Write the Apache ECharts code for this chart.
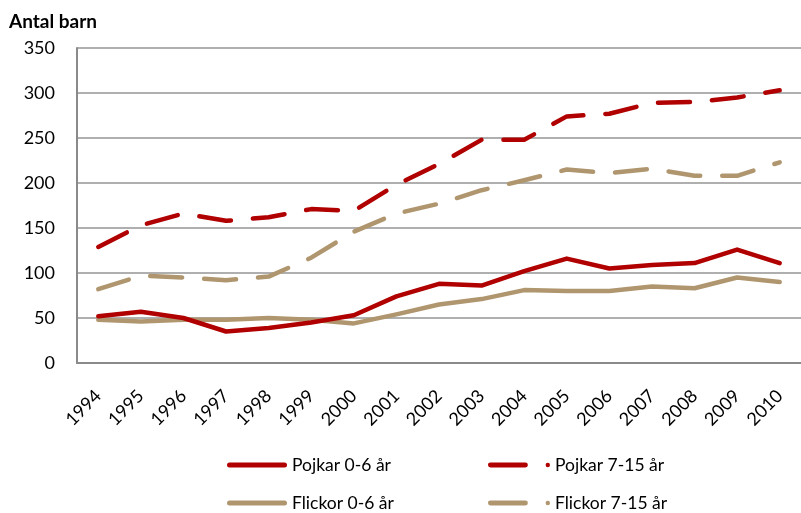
<!DOCTYPE html>
<html>
<head>
<meta charset="utf-8">
<script src="https://cdn.jsdelivr.net/npm/echarts@6/dist/echarts.min.js"></script>
<style>
  html, body { margin: 0; padding: 0; background: #fff; }
  #chart { width: 801px; height: 513px; }
</style>
</head>
<body>
<div id="chart"></div>
<script>
const years = ['1994','1995','1996','1997','1998','1999','2000','2001','2002','2003','2004','2005','2006','2007','2008','2009','2010'];
const pojkar06  = [52, 57, 50, 35, 39, 45, 53, 74, 88, 86, 102, 116, 105, 109, 111, 126, 111];
const flickor06 = [48, 46, 48, 48, 50, 48, 44, 54, 65, 71, 81, 80, 80, 85, 83, 95, 90];
const pojkar715 = [129, 153, 166, 158, 162, 171, 169, 198, 221, 248, 248, 274, 277, 289, 290, 295, 303];
const flickor715 = [82, 97, 95, 92, 96, 117, 146, 166, 177, 192, 203, 215, 211, 216, 208, 208, 223];
const yTicks = { min: 0, max: 350, interval: 50 };

const RED = '#B00000';
const TAN = '#B0966F';
const FONT = 'Lato';
const DASH = [32, 22];

const solidIcon = 'path://M2.5,0 H57.5 A2.5,2.5 0 0 1 57.5,5 H2.5 A2.5,2.5 0 0 1 2.5,0 Z';
const dashIcon = 'path://M2.5,0 H37.5 A2.5,2.5 0 0 1 37.5,5 H2.5 A2.5,2.5 0 0 1 2.5,0 Z M57.8,2.5 A2.2,2.2 0 1 0 62.2,2.5 A2.2,2.2 0 1 0 57.8,2.5 Z';

function mkLegend(name, icon, left, top, w) {
  return {
    data: [name], left: left, top: top, padding: 0,
    icon: icon, itemWidth: w, itemHeight: 5,
    textStyle: { fontFamily: FONT, fontSize: 17.5, color: '#000' },
    selectedMode: false
  };
}

function mkSeries(name, data, color, dashed) {
  return {
    name: name, type: 'line', data: data,
    symbol: 'none', smooth: false,
    lineStyle: { color: color, width: 4.5, type: dashed ? DASH : 'solid', cap: 'round', join: 'round' },
    itemStyle: { color: color },
    emphasis: { disabled: true }
  };
}

const chart = echarts.init(document.getElementById('chart'), null, { renderer: 'canvas' });
chart.setOption({
  animation: false,
  backgroundColor: '#fff',
  title: {
    text: 'Antal barn', left: 9, top: 12, padding: 0,
    textStyle: { fontFamily: FONT, fontSize: 19, fontWeight: 'bold', color: '#000' }
  },
  legend: [
    mkLegend('Pojkar 0-6 år', solidIcon, 227, 456, 60),
    mkLegend('Pojkar 7-15 år', dashIcon, 488, 456, 62),
    mkLegend('Flickor 0-6 år', solidIcon, 227, 494, 60),
    mkLegend('Flickor 7-15 år', dashIcon, 488, 494, 62)
  ],
  grid: { left: 77, top: 48, width: 727, height: 315, containLabel: false },
  xAxis: {
    type: 'category', data: years, boundaryGap: true,
    axisLine: { show: true, lineStyle: { color: '#8a8a8a', width: 2 } },
    axisTick: { show: false },
    axisLabel: { rotate: 45, margin: 30, fontFamily: FONT, fontSize: 18, color: '#000' },
    splitLine: { show: false }
  },
  yAxis: {
    type: 'value', min: yTicks.min, max: yTicks.max, interval: yTicks.interval,
    axisLine: { show: true, lineStyle: { color: '#8a8a8a', width: 2 } },
    axisTick: { show: false },
    axisLabel: { margin: 22, fontFamily: FONT, fontSize: 18, color: '#000' },
    splitLine: { show: true, lineStyle: { color: '#959595', width: 1.5 } }
  },
  series: [
    mkSeries('Flickor 0-6 år', flickor06, TAN, false),
    mkSeries('Pojkar 0-6 år', pojkar06, RED, false),
    mkSeries('Flickor 7-15 år', flickor715, TAN, true),
    mkSeries('Pojkar 7-15 år', pojkar715, RED, true)
  ]
});
</script>
</body>
</html>
